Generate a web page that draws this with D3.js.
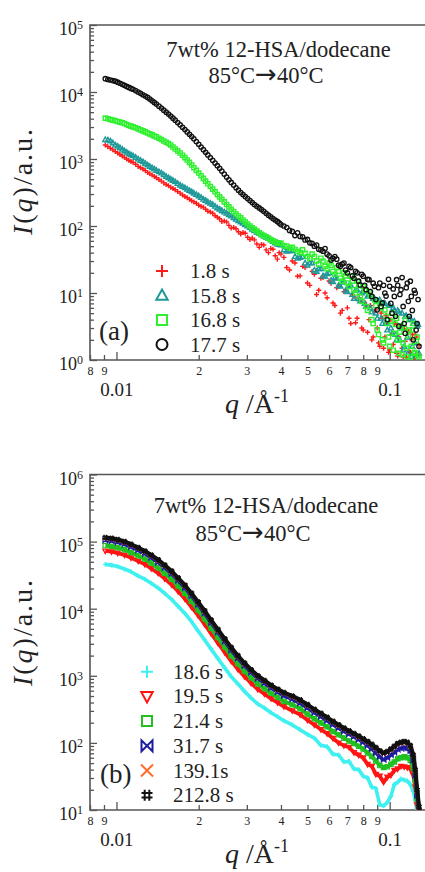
<!DOCTYPE html>
<html>
<head>
<meta charset="utf-8">
<script src="https://cdn.jsdelivr.net/npm/d3@7"></script>
<style>
  body { margin: 0; background: #fff; }
  svg { display: block; font-family: "Liberation Serif", "Times New Roman", serif; }
</style>
</head>
<body>
<script>
'use strict';

// ---- panel (a) data : q in 1/A, I(q) in a.u. ----
var qA = [0.0091,0.0095,0.0099,0.0103,0.0107,0.0111,0.0115,0.0120,0.0125,0.0130,
  0.0135,0.0140,0.0146,0.0152,0.0158,0.0164,0.0171,0.0178,0.0185,0.0192,
  0.0200,0.0208,0.0216,0.0225,0.0234,0.0243,0.0253,0.0263,0.0274,0.0285,
  0.0296,0.0308,0.0320,0.0333,0.0346,0.0360,0.0374,0.0388,0.040,0.042,
  0.044,0.046,0.048,0.050,0.052,0.054,0.056,0.058,0.060,0.062,
  0.064,0.066,0.068,0.070,0.072,0.074,0.076,0.078,0.080,0.082,
  0.084,0.086,0.088,0.090,0.092,0.094,0.096,0.098,0.100,0.102,
  0.104,0.106,0.108,0.110,0.112,0.114,0.116,0.118,0.120,0.122,
  0.124,0.126,0.128];

var a_1_8s = [1620,1450,1290,1170,1050,955,891,776,708,631,
  575,525,468,417,380,347,309,275,251,229,
  204,191,166,155,135,117,115,93,91,76,
  78,63,62,48,52,40,45,32,38,24,
  30,17.8,25,14.1,21,9.5,16.6,10,15.1,7.1,
  12,5.0,10.5,6.0,3.5,8.9,4.2,7.6,2.8,6.3,
  4.0,2.0,5.2,3.0,1.6,4.2,2.2,3.5,1.41,2.5,
  3.5,1.26,2.2,3.2,1.12,1.9,2.8,1.32,2.0,1.05,
  2.4,1.26,1.66];

var a_15_8s = [1950,1860,1620,1480,1320,1200,1120,1000,912,813,
  741,676,617,550,501,457,407,372,339,309,
  282,251,229,209,186,170,155,141,126,115,
  105,95,85,78,71,65,59,54,52,42,
  43,33,35,26,28,21,23,17.8,20,14.8,
  16.6,12.6,15.1,10.5,13.2,8.3,11.2,7.6,10.5,6.3,
  9.5,5.2,8.3,4.2,7.9,3.5,7.1,2.8,6.6,2.5,
  5.6,2.0,5.2,3.0,1.41,4.5,2.2,4.0,1.12,3.5,
  1.8,3.2,1.26];

var a_16_8s = [4070,3890,3720,3550,3390,3160,3020,2820,2630,2450,
  2290,2140,1950,1780,1620,1410,1230,1050,891,741,
  617,513,427,355,295,251,209,178,151,132,
  115,100,89,79,72,66,60,56,55,50,
  48,42,44,35,38,30,33,25,28,21,
  24,16.6,20,14.1,17.8,11.2,15.1,8.9,12.6,6.3,
  10.5,4.0,7.9,2.8,7.1,2.0,5.6,3.5,1.6,5.0,
  2.5,4.2,1.26,3.2,1.8,4.0,1.12,2.8,1.6,3.5,
  1.26,2.2,1.05];

var a_17_7s = [15800,15100,14500,13500,12600,11700,11000,10000,9100,8300,
  7400,6600,5750,5000,4370,3800,3240,2750,2340,2000,
  1660,1380,1150,955,794,661,537,447,372,316,
  275,240,209,186,166,145,129,117,105,95,
  83,79,69,63,55,52,44,46,36,33,
  32,25,28,20,24,16.6,20,13.2,17.8,11.2,
  15.8,8.9,12.6,5.6,14.1,7.1,10,4.0,12.6,5.0,
  8.9,15.8,3.2,11.2,6.3,2.5,14.1,4.5,8.9,2.0,
  10,3.5,1.6];

// second set of readings in panel (a), the points lying between the ones above
var qA2 = [0.0093,0.0097,0.0101,0.0105,0.0109,0.0113,0.01175,0.01225,0.01275,0.01325,
  0.01375,0.0143,0.0149,0.0155,0.0161,0.01675,0.01745,0.01815,0.01885,0.0196,
  0.0204,0.0212,0.02205,0.02295,0.02385,0.0248,0.0258,0.02685,0.02795,0.02905,
  0.0302,0.0314,0.03265,0.03395,0.0353,0.0367,0.0381,0.0394,
  0.041,0.043,0.045,0.047,0.049,0.051,0.053,0.055,0.057,0.059,
  0.061,0.063,0.065,0.067,0.069,0.071,0.073,0.075,0.077,0.079,
  0.081,0.083,0.085,0.087,0.089,0.091,0.093,0.095,0.097,0.099,
  0.101,0.103,0.105,0.107,0.109,0.111,0.113,0.115,0.117,0.119,
  0.121,0.123,0.125,0.127];

var a_1_8s_2 = [1530,1370,1230,1110,1000,920,835,740,670,600,
  550,495,440,400,362,326,290,264,238,218,
  196,178,162,142,128,119,102,95,82,80,
  68,66,54,53,44,46,36,40,
  34,22,28,18,24,13,19,11,17,8.5,
  14,6.5,12.5,5.5,11,4.2,9.5,3.6,8.5,3.0,
  7.2,2.6,6.5,2.2,5.6,1.8,5.0,1.5,4.6,1.3,
  4.0,1.7,3.6,1.15,3.2,1.5,2.9,1.1,2.6,1.3,
  2.4,1.05,2.2,1.2];

var a_15_8s_2 = [1920,1740,1550,1400,1260,1160,1060,955,860,776,
  708,646,583,525,479,431,389,355,324,295,
  266,240,219,197,178,162,148,133,120,110,
  100,90,81,74,68,62,56,53,
  44,43,35,34,28,28,22,23,18,19.5,
  15.5,17,13,14.5,11,12.8,9.5,11,8.2,10,
  7,9,6,8.3,5,7.5,4.2,7,3.6,6.5,
  3,6,2.4,5.5,2,5,1.6,4.6,1.3,4.2,
  1.6,3.8,1.2,3.4];

var a_16_8s_2 = [3980,3800,3630,3470,3270,3090,2920,2720,2540,2370,
  2210,2040,1860,1700,1510,1320,1140,967,813,676,
  562,468,389,324,272,229,193,164,141,123,
  107,94,84,75,69,63,58,55.5,
  51,47,45,40,39,33,35,27,30,23,
  26,19,21,15,18,12.5,15,10,13,7.5,
  11,5.5,9,3.5,6.5,2.4,6,1.8,4.5,2.2,
  3.8,1.4,3.4,2.0,2.6,1.2,3.0,1.5,2.3,1.1,
  2.8,1.3,1.9,1.15];

var a_17_7s_2 = [15400,14800,14000,13000,12100,11300,10500,9550,8700,7850,
  7000,6150,5350,4680,4070,3500,2980,2540,2160,1820,
  1510,1260,1050,870,725,595,490,408,343,295,
  257,224,197,176,155,137,123,111,
  100,86,72,70,62,56,50,45,42,38,
  31,35,26,27,22,25,18,21,15,19,
  13,16,10.5,14,8,12,6.3,13,9,16,
  7,11.5,4.5,13,9.5,17,3.5,12,7.5,15,
  5.5,11,2.8,8];

// ---- panel (b) data ----
var qB = [0.0091,0.0096,0.0101,0.0107,0.0113,0.0120,0.0127,0.0134,0.0142,0.0150,
  0.0159,0.0168,0.0178,0.0188,0.0199,0.0210,0.0222,0.0235,0.0249,0.0263,
  0.0278,0.0294,0.0311,0.0329,0.0348,0.0368,0.0389,0.041,0.044,0.047,
  0.050,0.053,0.056,0.059,0.062,0.065,0.068,0.071,0.074,0.077,
  0.080,0.083,0.086,0.089,0.092,0.095,0.098,0.101,0.104,0.107,
  0.110,0.113,0.116,0.119,0.122,0.124,0.126,0.128,0.130];

var b_18_6s = [45800,44600,42600,39000,35600,30900,27500,24000,20400,17000,
  13800,10900,8510,6460,4660,3450,2500,1810,1310,973,
  760,589,467,380,332,282,246,214,185,157,
  134,118,92,88,68,66,52,53,41,40,
  32,30,22,21,12,11.5,13,16,24,26,
  29,28,27,24,19,14,9,6.2,4.7];

var b_19_5s = [72600,70700,67500,63100,57500,51300,45700,39800,33900,28200,
  22900,18200,14100,10700,7950,5890,4270,3090,2240,1660,
  1260,978,776,631,537,457,398,347,302,264,
  219,186,158,138,117,100,91,86,72,66,
  60,48,45,34,32,26,31,33,39,41,
  45,44,43,41,33,22,12,7.3,5.5];

var b_21_4s = [87300,85000,81200,75900,69200,61700,55000,47900,40800,33900,
  27600,21900,17000,12900,9560,7080,5130,3720,2690,2000,
  1520,1180,934,759,646,550,479,416,371,324,
  269,229,199,174,148,132,118,107,98,89,
  81,71,63,54,46,43,44,48,52,58,
  60,62,60,55,42,28,15,9,6.7];

var b_31_7s = [105000,102000,97600,91200,83200,74100,66000,57500,49000,40800,
  33100,26300,20400,15500,11500,8510,6170,4470,3240,2400,
  1820,1410,1120,912,776,660,575,501,446,389,
  331,282,245,214,186,166,148,135,123,112,
  102,91,81,71,62,56,60,66,72,80,
  83,85,83,76,55,33,16.6,9.5,6.7];

var b_139_1s = [113000,110000,105000,98000,89400,79700,71000,61800,52600,43800,
  35600,28200,22000,16700,12300,9140,6620,4800,3480,2580,
  1960,1520,1210,980,834,710,618,551,491,428,
  365,310,270,235,205,182,163,148,135,123,
  113,103,93,83,74,70,73,79,87,96,
  100,103,100,89,65,39,19.5,11,7.8];

var b_212_8s = [115000,112000,107000,100000,91200,81300,72400,63100,53700,44700,
  36300,28800,22400,17000,12600,9330,6760,4900,3550,2630,
  2000,1550,1230,1000,851,724,631,562,501,437,
  372,316,275,240,209,186,166,151,138,126,
  115,105,95,85,76,71,74,81,89,98,
  102,105,102,91,66,40,20,11.2,7.9];

// ---- ticks ----
var xMajor = [0.01, 0.1];
var xMinor = [0.008, 0.009, 0.02, 0.03, 0.04, 0.05, 0.06, 0.07, 0.08, 0.09];
var xMinorLabels = ["8", "9", "2", "3", "4", "5", "6", "7", "8", "9"];
var yMajorA = [1, 10, 100, 1000, 10000, 100000];
var yMajorB = [10, 100, 1000, 10000, 100000, 1000000];

var W = 425, H = 872;
var axisColor = "#555", textColor = "#222";

var svg = d3.select("body").append("svg")
    .attr("width", W)
    .attr("height", H);

var x = d3.scaleLog().domain([0.008, 0.135]).range([90, 425.3]);

function symbol(shape, s) {
    switch (shape) {
        case "plus": return "M" + (-s) + ",0H" + s + "M0," + (-s) + "V" + s;
        case "cross": return "M" + (-s) + "," + (-s) + "L" + s + "," + s + "M" + (-s) + "," + s + "L" + s + "," + (-s);
        case "triUp": return "M0," + (-s) + "L" + (s * 0.95) + "," + (s * 0.72) + "L" + (-s * 0.95) + "," + (s * 0.72) + "Z";
        case "triDown": return "M0," + s + "L" + (s * 0.95) + "," + (-s * 0.72) + "L" + (-s * 0.95) + "," + (-s * 0.72) + "Z";
        case "square": return "M" + (-s) + "," + (-s) + "H" + s + "V" + s + "H" + (-s) + "Z";
        case "circle": return "M" + (-s) + ",0a" + s + "," + s + " 0 1,0 " + (2 * s) + ",0a" + s + "," + s + " 0 1,0 " + (-2 * s) + ",0";
        case "bowtie": return "M" + (-s) + "," + (-s) + "V" + s + "L" + s + "," + (-s) + "V" + s + "Z";
        case "hash":
            var k = s * 0.42;
            return "M" + (-k) + "," + (-s) + "V" + s + "M" + k + "," + (-s) + "V" + s +
                "M" + (-s) + "," + (-k) + "H" + s + "M" + (-s) + "," + k + "H" + s;
    }
}

var panels = [
    {
        id: "a", top: 25, bottom: 360, yDomain: [1, 1e5], yMajor: yMajorA, yLabelY: 181,
        title: { x1: 278.5, y1: 57, x2: 266, y2: 83 },
        tag: { x: 99, y: 340 },
        legend: { x: 162, tx: 190, y0: 271, dy: 24.5 },
        line: false,
        series: [
            { label: "1.8 s", q: qA.concat(qA2), I: a_1_8s.concat(a_1_8s_2), color: "#ff1a1a", shape: "plus", s: 2.5, sw: 1.4, ls: 6 },
            { label: "15.8 s", q: qA.concat(qA2), I: a_15_8s.concat(a_15_8s_2), color: "#1e9898", shape: "triUp", s: 2.6, sw: 1.4, ls: 6 },
            { label: "16.8 s", q: qA.concat(qA2), I: a_16_8s.concat(a_16_8s_2), color: "#2ef02e", shape: "square", s: 2.1, sw: 1.4, ls: 5 },
            { label: "17.7 s", q: qA.concat(qA2), I: a_17_7s.concat(a_17_7s_2), color: "#111", shape: "circle", s: 2.2, sw: 1.3, ls: 5.5 }
        ]
    },
    {
        id: "b", top: 474.5, bottom: 810, yDomain: [10, 1e6], yMajor: yMajorB, yLabelY: 632,
        title: { x1: 266, y1: 513, x2: 253, y2: 541 },
        tag: { x: 100, y: 783 },
        legend: { x: 147, tx: 173, y0: 671.7, dy: 24.7 },
        line: true,
        series: [
            { label: "18.6 s", q: qB, I: b_18_6s, color: "#3ff0f0", shape: "plus", s: 2.4, sw: 1.3, ls: 6, lw: 3.6 },
            { label: "19.5 s", q: qB, I: b_19_5s, color: "#ff1414", shape: "triDown", s: 2.6, sw: 1.3, ls: 6, lw: 3.8 },
            { label: "21.4 s", q: qB, I: b_21_4s, color: "#20c020", shape: "square", s: 2.2, sw: 1.2, ls: 5, lw: 4 },
            { label: "31.7 s", q: qB, I: b_31_7s, color: "#1c1ca0", shape: "bowtie", s: 2.3, sw: 1.2, ls: 5.5, lw: 3.6 },
            { label: "139.1s", q: qB, I: b_139_1s, color: "#ff6a2a", shape: "cross", s: 2.4, sw: 1.3, ls: 6, lw: 3.6 },
            { label: "212.8 s", q: qB, I: b_212_8s, color: "#111", shape: "hash", s: 2.8, sw: 1.4, ls: 5.5, lw: 4.2 }
        ]
    }
];

panels.forEach(function(p) {
    var y = d3.scaleLog().domain(p.yDomain).range([p.bottom, p.top]);
    var g = svg.append("g").attr("class", "panel-" + p.id);

    // minor y ticks: 2..9 per decade
    var yMinor = [];
    p.yMajor.forEach(function(m, i) {
        if (i === p.yMajor.length - 1) return;
        for (var k = 2; k <= 9; k++) yMinor.push(m * k);
    });

    var yMinorAxis = d3.axisLeft(y).tickValues(yMinor).tickSize(-4).tickSizeOuter(0).tickFormat("");
    var yMajorAxis = d3.axisLeft(y).tickValues(p.yMajor).tickSize(-7).tickSizeOuter(0).tickPadding(7);

    var ga = g.append("g").attr("transform", "translate(" + x.range()[0] + ",0)");
    ga.call(yMinorAxis);
    var gm = g.append("g").attr("transform", "translate(" + x.range()[0] + ",0)");
    gm.call(yMajorAxis);
    gm.selectAll(".tick text").each(function(d) {
        var t = d3.select(this);
        var e = Math.round(Math.log10(d));
        t.text("10").attr("dy", "0.55em").attr("font-size", "18px");
        t.append("tspan").attr("dy", "-0.5em").attr("font-size", "12px").text(e);
    });

    var gx1 = g.append("g").attr("transform", "translate(0," + p.bottom + ")");
    gx1.call(d3.axisBottom(x).tickValues(xMinor).tickSize(-5).tickSizeOuter(0).tickPadding(6.5)
        .tickFormat(function(d, i) { return xMinorLabels[i]; }));
    gx1.selectAll(".tick text").attr("font-size", "12px");
    var gx2 = g.append("g").attr("transform", "translate(0," + p.bottom + ")");
    gx2.call(d3.axisBottom(x).tickValues(xMajor).tickSize(-8).tickSizeOuter(0).tickPadding(23)
        .tickFormat(function(d) { return d === 0.01 ? "0.01" : "0.1"; }));
    gx2.selectAll(".tick text").attr("font-size", "19px");

    g.selectAll(".domain").remove();
    g.selectAll(".tick line").attr("stroke", axisColor).attr("stroke-width", 1.3);
    g.selectAll(".tick text").attr("fill", textColor).attr("font-family", "'Liberation Serif', 'Times New Roman', serif");

    // frame: top, left, bottom
    g.append("path")
        .attr("d", "M" + W + "," + p.top + "H" + x.range()[0] + "V" + p.bottom + "H" + W)
        .attr("fill", "none")
        .attr("stroke", axisColor)
        .attr("stroke-width", 1.6);

    // data
    var clipId = "clip-" + p.id;
    svg.append("clipPath").attr("id", clipId)
        .append("rect")
        .attr("x", x.range()[0]).attr("y", p.top)
        .attr("width", W - x.range()[0]).attr("height", p.bottom - p.top);
    var plot = g.append("g").attr("clip-path", "url(#" + clipId + ")");

    p.series.forEach(function(s) {
        var pts = s.q.map(function(q, i) { return { q: q, I: s.I[i] }; });
        if (p.line) {
            plot.append("path")
                .datum(pts)
                .attr("fill", "none")
                .attr("stroke", s.color)
                .attr("stroke-width", s.lw)
                .attr("stroke-linejoin", "round")
                .attr("d", d3.line().x(function(d) { return x(d.q); }).y(function(d) { return y(d.I); }));
        }
        plot.append("g").selectAll("path")
            .data(pts)
            .enter()
            .append("path")
                .attr("transform", function(d) { return "translate(" + x(d.q) + "," + y(d.I) + ")"; })
                .attr("d", symbol(s.shape, s.s))
                .attr("fill", "none")
                .attr("stroke", s.color)
                .attr("stroke-width", s.sw);
    });

    // titles
    g.append("text")
        .attr("x", p.title.x1).attr("y", p.title.y1)
        .attr("text-anchor", "middle")
        .attr("font-size", "22.5px")
        .attr("fill", textColor)
        .text("7wt% 12-HSA/dodecane");
    var t2 = g.append("text")
        .attr("x", p.title.x2).attr("y", p.title.y2)
        .attr("text-anchor", "middle")
        .attr("font-size", "22.5px")
        .attr("fill", textColor);
    t2.append("tspan").text("85\u00b0C");
    t2.append("tspan").attr("font-family", "'DejaVu Sans', sans-serif").attr("font-size", "26px").text("\u2192");
    t2.append("tspan").text("40\u00b0C");

    // legend
    var lg = g.append("g");
    p.series.forEach(function(s, i) {
        var ly = p.legend.y0 + i * p.legend.dy;
        lg.append("path")
            .attr("transform", "translate(" + p.legend.x + "," + ly + ")")
            .attr("d", symbol(s.shape, s.ls))
            .attr("fill", "none")
            .attr("stroke", s.color)
            .attr("stroke-width", 2);
        lg.append("text")
            .attr("x", p.legend.tx).attr("y", ly + 7)
            .attr("font-size", "21px")
            .attr("fill", textColor)
            .text(s.label);
    });

    g.append("text")
        .attr("x", p.tag.x).attr("y", p.tag.y)
        .attr("font-size", "27px")
        .attr("fill", textColor)
        .text("(" + p.id + ")");

    // axis titles
    var yl = g.append("text")
        .attr("transform", "translate(32," + p.yLabelY + ") rotate(-90)")
        .attr("text-anchor", "middle")
        .attr("font-size", "28px")
        .attr("letter-spacing", "2px")
        .attr("fill", textColor);
    yl.append("tspan").attr("font-style", "italic").text("I");
    yl.append("tspan").text("(");
    yl.append("tspan").attr("font-style", "italic").text("q");
    yl.append("tspan").text(")/a.u.");

    var xl = g.append("text")
        .attr("x", 257).attr("y", p.bottom + 53)
        .attr("text-anchor", "middle")
        .attr("font-size", "28px")
        .attr("fill", textColor);
    xl.append("tspan").attr("font-style", "italic").text("q");
    xl.append("tspan").text(" /\u00c5");
    xl.append("tspan").attr("dy", "-0.6em").attr("font-size", "18px").text("-1");
});
</script>
</body>
</html>
